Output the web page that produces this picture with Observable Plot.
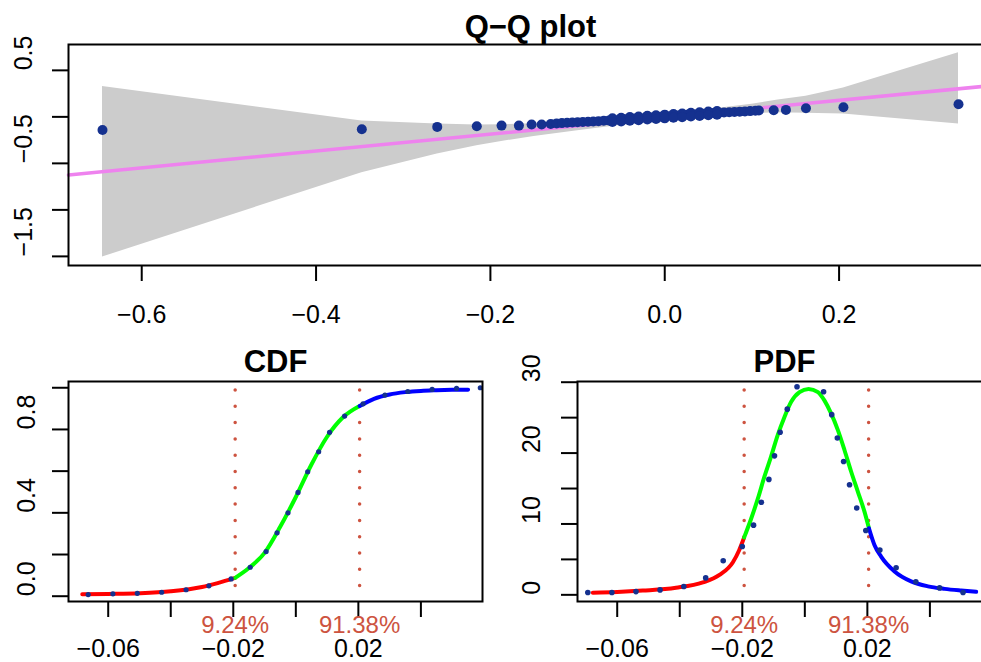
<!DOCTYPE html>
<html>
<head>
<meta charset="utf-8">
<script src="https://cdn.jsdelivr.net/npm/d3@7"></script>
<script src="https://cdn.jsdelivr.net/npm/@observablehq/plot@0.6"></script>
<style>
  html, body { margin: 0; padding: 0; background: #fff; }
  #wrap { position: relative; width: 981px; height: 662px; overflow: hidden; background: #fff; }
  #wrap > div { position: absolute; }
  #wrap svg { max-width: none !important; display: block; }
</style>
</head>
<body>
<div id="wrap">
  <div id="qq" style="left:0;top:0;width:1010px;height:340px"></div>
  <div id="cdf" style="left:0;top:330px;width:490px;height:332px"></div>
  <div id="pdf" style="left:490px;top:330px;width:520px;height:332px"></div>
</div>
<script>
// ---------- Q-Q plot data ----------
const qqX = [-0.645, -0.3475, -0.261, -0.2156, -0.1872, -0.1673, -0.1527, -0.1412, -0.1308,
  -0.124, -0.118, -0.112, -0.106, -0.100, -0.094, -0.088, -0.082, -0.076, -0.070, -0.064, -0.058,
  -0.052, -0.046, -0.040, -0.034, -0.028, -0.022, -0.016, -0.010, -0.004, 0.002, 0.008, 0.014,
  0.020, 0.026, 0.032, 0.038, 0.044, 0.050, 0.056, 0.062, 0.068, 0.074, 0.080, 0.086, 0.092,
  0.098, 0.104, 0.108, 0.125, 0.139, 0.162, 0.205, 0.337];
const qqY = [-0.141, -0.134, -0.108, -0.101, -0.094, -0.094, -0.083, -0.083, -0.076,
  -0.070, -0.067, -0.064, -0.061, -0.058, -0.055, -0.052, -0.049, -0.046, -0.042, -0.038, -0.034,
  -0.030, -0.026, -0.022, -0.018, -0.014, -0.010, -0.006, -0.002, 0.002, 0.006, 0.010, 0.014,
  0.018, 0.022, 0.026, 0.030, 0.034, 0.038, 0.041, 0.044, 0.047, 0.050, 0.053, 0.056, 0.059,
  0.062, 0.065, 0.068, 0.071, 0.075, 0.093, 0.104, 0.136];
// extra overlapping sample points in the dense central section
const qqMidX  = [-0.06, -0.05, -0.04, -0.03, -0.02, -0.01, 0.00, 0.01, 0.02, 0.03, 0.04, 0.05, 0.06];
const qqMidHi = [-0.015, -0.009, -0.002, 0.004, 0.011, 0.017, 0.024, 0.030, 0.037, 0.043, 0.050, 0.057, 0.063];
const qqMidLo = [-0.055, -0.049, -0.042, -0.036, -0.029, -0.023, -0.016, -0.010, -0.003, 0.003, 0.010, 0.017, 0.023];
const bandX  = [-0.645, -0.3475, -0.261, -0.2156, -0.1872, -0.15, -0.10, -0.05, 0, 0.05, 0.10, 0.13, 0.162, 0.205, 0.337];
const bandLo = [-1.507, -0.60, -0.40, -0.31, -0.265, -0.21, -0.15, -0.09, -0.04, 0.0, 0.035, 0.045, 0.04, 0.032, -0.078];
const bandHi = [0.327, -0.045, -0.078, -0.088, -0.085, -0.075, -0.045, -0.01, 0.03, 0.08, 0.135, 0.18, 0.222, 0.31, 0.69];
const qqLineX = [-0.684, 0.376];
const qqLineY = [-0.625, 0.337];
const qqXTicks = [-0.6, -0.4, -0.2, 0.0, 0.2];
const qqYTicks = [-1.5, -1.0, -0.5, 0.0, 0.5];
const qqYLabels = [-1.5, -0.5, 0.5];

// ---------- CDF data ----------
const cdfDotX = [-0.0664, -0.0585, -0.0507, -0.0429, -0.0351, -0.0278, -0.0207, -0.0146, -0.0095, -0.0060, -0.0025, 0.0007, 0.0038, 0.0073, 0.0108, 0.0156, 0.0215, 0.0285, 0.0358, 0.0436, 0.0514, 0.0590];
const cdfDotY = [0.008, 0.0115, 0.014, 0.019, 0.031, 0.050, 0.083, 0.139, 0.214, 0.304, 0.400, 0.498, 0.597, 0.693, 0.786, 0.864, 0.923, 0.965, 0.982, 0.992, 0.997, 1.000];
const cdfRedX = [-0.0683, -0.06, -0.05, -0.04, -0.03, -0.025, -0.0194];
const cdfRedY = [0.009, 0.011, 0.0145, 0.0235, 0.044, 0.063, 0.088];
const cdfGreenX = [-0.0194, -0.015, -0.01, -0.005, 0, 0.005, 0.01, 0.015, 0.0204];
const cdfGreenY = [0.088, 0.135, 0.208, 0.333, 0.476, 0.632, 0.765, 0.857, 0.912];
const cdfBlueX = [0.0204, 0.025, 0.03, 0.035, 0.04, 0.045, 0.05, 0.0551];
const cdfBlueY = [0.912, 0.947, 0.968, 0.979, 0.985, 0.988, 0.990, 0.991];
const cdfYTicks = [0, 0.2, 0.4, 0.6, 0.8, 1.0];
const cdfYLabels = [0, 0.4, 0.8];

// ---------- PDF data ----------
const pdfDotX = [-0.0694, -0.0617, -0.054, -0.0463, -0.0387, -0.0317, -0.0261, -0.0200, -0.0164, -0.0139, -0.0115, -0.0097, -0.0079, -0.0056, -0.0025, 0.0060, 0.0086, 0.0104, 0.0124, 0.0143, 0.0166, 0.0195, 0.0240, 0.0292, 0.0355, 0.0431, 0.0506];
const pdfDotY = [0.32, 0.32, 0.46, 0.70, 1.17, 2.39, 4.80, 6.83, 9.83, 13.06, 16.29, 19.61, 22.94, 26.2, 29.35, 28.65, 25.42, 22.13, 18.82, 15.53, 12.26, 9.07, 6.32, 3.83, 1.83, 0.98, 0.32];
const pdfRedX = [-0.0678, -0.06, -0.0518, -0.0412, -0.0326, -0.0273, -0.023, -0.021, -0.0194];
const pdfRedY = [0.30, 0.40, 0.60, 1.0, 1.75, 2.8, 4.6, 6.3, 8.1];
const pdfGreenX = [-0.0194, -0.0172, -0.0150, -0.0129, -0.0108, -0.0087, -0.0065, -0.0044, -0.0017, 0.0012, 0.0042, 0.0063, 0.0084, 0.0106, 0.0127, 0.0148, 0.0170, 0.0191, 0.0205];
const pdfGreenY = [8.1, 10.7, 13.6, 16.7, 19.5, 22.5, 25.1, 27.2, 28.6, 29.05, 28.6, 27.4, 25.6, 23.2, 20.4, 17.4, 14.5, 11.7, 9.4];
const pdfBlueX = [0.0205, 0.0223, 0.0244, 0.0287, 0.034, 0.0394, 0.0447, 0.05, 0.0548];
const pdfBlueY = [9.4, 7.0, 5.4, 3.3, 1.9, 1.2, 0.84, 0.6, 0.42];
const pdfYTicks = [0, 5, 10, 15, 20, 25, 30];
const pdfYLabels = [0, 10, 20, 30];

// ---------- shared ----------
const distXTicks = [-0.06, -0.04, -0.02, 0, 0.02, 0.04];
const distXLabels = [-0.06, -0.02, 0.02];
const cuts = [-0.0194, 0.0204];
const cutLabels = ["9.24%", "91.38%"];

const FONT = "'Liberation Sans', Arial, Helvetica, sans-serif";
const DOT = "#15318f";
const CUT = "#cd5340";
const TICK = 25;
const TITLE = 31;
const zip = (xs, ys) => xs.map((x, i) => ({x, y: ys[i]}));
const f1 = d3.format(".1f"), f2 = d3.format(".2f"), f0 = d3.format("d");
const baseStyle = {fontFamily: FONT, fontSize: TICK + "px", color: "black", background: "transparent", overflow: "visible"};

// ---------- Q-Q plot ----------
const band = bandX.map((x, i) => ({x, lo: bandLo[i], hi: bandHi[i]}));
const qqPoints = zip(qqX, qqY).concat(zip(qqMidX, qqMidHi), zip(qqMidX, qqMidLo));
const qq = Plot.plot({
  width: 1010, height: 340,
  marginLeft: 68, marginRight: 18, marginTop: 44, marginBottom: 75,
  x: {domain: [-0.684, 0.376], label: null},
  y: {domain: [-1.598, 0.778], label: null},
  style: baseStyle,
  marks: [
    Plot.areaY(band, {x: "x", y1: "lo", y2: "hi", fill: "#cccccc"}),
    Plot.line(zip(qqLineX, qqLineY), {x: "x", y: "y", stroke: "#ee82ee", strokeWidth: 3.5}),
    Plot.dot(qqPoints, {x: "x", y: "y", r: 5, fill: DOT}),
    Plot.frame({stroke: "black", strokeWidth: 2}),
    Plot.axisX({ticks: qqXTicks, tickSize: 16, tickPadding: 24, tickFormat: f1, fontSize: TICK, strokeWidth: 2, label: null}),
    Plot.axisY({ticks: qqYTicks, tickSize: 16, tickFormat: () => "", strokeWidth: 2, label: null}),
    Plot.text(qqYLabels, {y: d => d, text: d => f1(d), frameAnchor: "left", lineAnchor: "middle", dx: -45, rotate: -90, fontSize: TICK}),
    Plot.text(["Q\u2212Q plot"], {text: d => d, frameAnchor: "top", lineAnchor: "middle", dy: -17, fontWeight: "bold", fontSize: TITLE})
  ]
});
document.getElementById("qq").append(qq);

// ---------- distribution panels ----------
function distPanel({width, marginLeft, marginRight, yDomain, yTicks, yLabels, yFmt, yLabelDx, title, red, green, blue, dots, dotR}) {
  return Plot.plot({
    width, height: 332,
    marginLeft, marginRight, marginTop: 51, marginBottom: 61,
    x: {domain: [-0.0727, 0.0597], label: null},
    y: {domain: yDomain, label: null},
    style: baseStyle,
    marks: [
      Plot.ruleX(cuts, {x: d => d, stroke: CUT, strokeWidth: 3.5, strokeDasharray: "0 16.3", strokeDashoffset: 7.3, strokeLinecap: "round"}),
      Plot.line(red, {x: "x", y: "y", stroke: "#ff0000", strokeWidth: 4, curve: "monotone-x"}),
      Plot.line(green, {x: "x", y: "y", stroke: "#00ff00", strokeWidth: 4, curve: "monotone-x"}),
      Plot.line(blue, {x: "x", y: "y", stroke: "#0000ff", strokeWidth: 4, curve: "monotone-x"}),
      Plot.dot(dots, {x: "x", y: "y", r: dotR, fill: DOT}),
      Plot.frame({stroke: "black", strokeWidth: 2}),
      Plot.axisX({ticks: distXTicks, tickSize: 16, tickPadding: 22, tickFormat: d => distXLabels.some(v => Math.abs(v - d) < 1e-9) ? f2(d) : "", fontSize: TICK, strokeWidth: 2, label: null}),
      Plot.axisY({ticks: yTicks, tickSize: 16, tickFormat: () => "", strokeWidth: 2, label: null}),
      Plot.text(yLabels, {y: d => d, text: d => yFmt(d), frameAnchor: "left", lineAnchor: "middle", dx: yLabelDx, rotate: -90, fontSize: TICK}),
      Plot.text(cuts, {x: d => d, text: (d, i) => cutLabels[i], frameAnchor: "bottom", lineAnchor: "middle", dy: 24, fill: CUT, fontSize: 24}),
      Plot.text([title], {text: d => d, frameAnchor: "top", lineAnchor: "middle", dy: -19, fontWeight: "bold", fontSize: TITLE})
    ]
  });
}

document.getElementById("cdf").append(distPanel({
  width: 490, marginLeft: 68, marginRight: 8,
  yDomain: [-0.0254, 1.030], yTicks: cdfYTicks, yLabels: cdfYLabels, yFmt: f1, yLabelDx: -42,
  title: "CDF",
  red: zip(cdfRedX, cdfRedY), green: zip(cdfGreenX, cdfGreenY), blue: zip(cdfBlueX, cdfBlueY),
  dots: zip(cdfDotX, cdfDotY), dotR: 2.6
}));

document.getElementById("pdf").append(distPanel({
  width: 520, marginLeft: 87, marginRight: 19,
  yDomain: [-0.94, 30.1], yTicks: pdfYTicks, yLabels: pdfYLabels, yFmt: f0, yLabelDx: -46,
  title: "PDF",
  red: zip(pdfRedX, pdfRedY), green: zip(pdfGreenX, pdfGreenY), blue: zip(pdfBlueX, pdfBlueY),
  dots: zip(pdfDotX, pdfDotY), dotR: 2.8
}));
</script>
</body>
</html>
